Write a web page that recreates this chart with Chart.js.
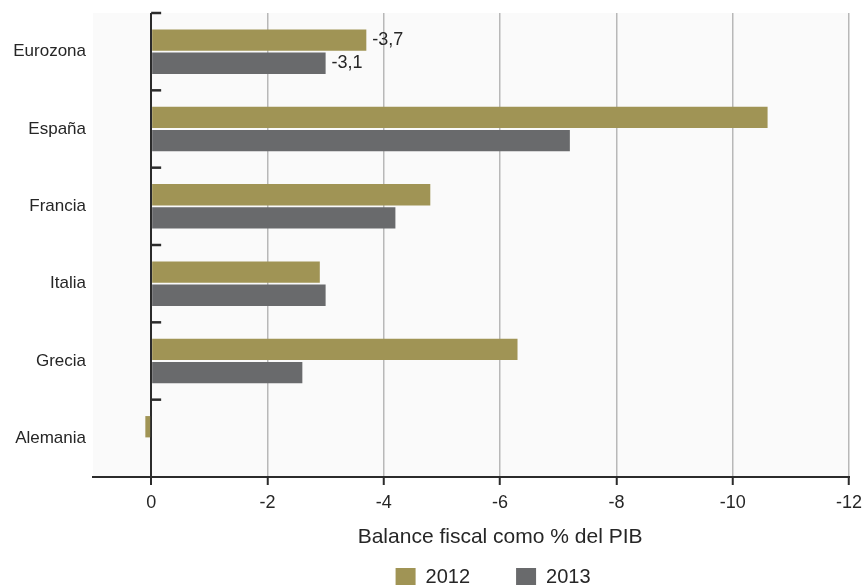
<!DOCTYPE html>
<html>
<head>
<meta charset="utf-8">
<script src="https://cdn.jsdelivr.net/npm/chart.js@4"></script>
<style>
body { margin: 0; background: #fff; }
#wrap { width: 862px; height: 585px; }
</style>
</head>
<body>
<div id="wrap"><canvas id="grafico"></canvas></div>
<script>
const paises = ['Eurozona', 'España', 'Francia', 'Italia', 'Grecia', 'Alemania'];
const valores2012 = [-3.7, -10.6, -4.8, -2.9, -6.3, 0.1];
const valores2013 = [-3.0, -7.2, -4.2, -3.0, -2.6, 0];
const etiquetas2012 = ['-3,7', '', '', '', '', ''];
const etiquetas2013 = ['-3,1', '', '', '', '', ''];
const ticksX = [0, -2, -4, -6, -8, -10, -12];
const tituloX = 'Balance fiscal como % del PIB';

const fuente = "'Liberation Sans', Arial, sans-serif";
const oscuro = '#2b2b2b';
const texto = '#262626';

// fondo gris claro del area de trazado
const fondo = {
    id: 'fondo',
    beforeDraw(chart) {
        const a = chart.chartArea;
        const ctx = chart.ctx;
        ctx.save();
        ctx.fillStyle = '#fafafa';
        ctx.fillRect(a.left, a.top, a.right - a.left, a.bottom - a.top);
        ctx.restore();
    }
};

// marcas cortas del eje de categorias, junto a la linea del cero
const marcas = {
    id: 'marcas',
    afterDatasetsDraw(chart) {
        const ctx = chart.ctx;
        const x0 = chart.scales.x.getPixelForValue(0);
        const y = chart.scales.y;
        ctx.save();
        ctx.strokeStyle = oscuro;
        ctx.lineWidth = 2.5;
        for (let i = 0; i < paises.length; i++) {
            const yy = y.getPixelForValue(i - 0.5);
            ctx.beginPath();
            ctx.moveTo(x0, yy);
            ctx.lineTo(x0 + 10, yy);
            ctx.stroke();
        }
        ctx.restore();
    }
};

const rotulos = {
    id: 'rotulos',
    afterDatasetsDraw(chart) {
        const ctx = chart.ctx;
        ctx.save();
        ctx.font = '18px ' + fuente;
        ctx.fillStyle = texto;
        ctx.textBaseline = 'middle';
        ctx.textAlign = 'left';
        [etiquetas2012, etiquetas2013].forEach((lista, d) => {
            chart.getDatasetMeta(d).data.forEach((barra, i) => {
                if (lista[i]) ctx.fillText(lista[i], barra.x + 6, barra.y);
            });
        });
        ctx.restore();
    }
};

// titulo del eje x centrado entre 0 y -12, y leyenda desplazada igual
const tituloEje = {
    id: 'tituloEje',
    afterLayout(chart) {
        const x = chart.scales.x;
        const centro = (x.getPixelForValue(0) + x.getPixelForValue(-12)) / 2;
        const l = chart.legend;
        const dx = centro - 7 - (l.left + l.right) / 2;
        l.left += dx;
        l.right += dx;
    },
    afterDraw(chart) {
        const x = chart.scales.x;
        const ctx = chart.ctx;
        ctx.save();
        ctx.font = '21px ' + fuente;
        ctx.fillStyle = texto;
        ctx.textAlign = 'center';
        ctx.textBaseline = 'middle';
        ctx.fillText(tituloX, (x.getPixelForValue(0) + x.getPixelForValue(-12)) / 2, x.top + 60);
        ctx.restore();
    }
};

ctx = document.getElementById('grafico');
chart = new Chart(ctx, {
    type: 'bar',
    data: {
        labels: paises,
        datasets: [{
                label: '2012',
                data: valores2012,
                backgroundColor: '#a09455',
                borderWidth: 0,
                barPercentage: 0.92,
                categoryPercentage: 0.6
            },
            {
                label: '2013',
                data: valores2013,
                backgroundColor: '#696a6c',
                borderWidth: 0,
                barPercentage: 0.92,
                categoryPercentage: 0.6
            }]
    },
    options: {
        indexAxis: 'y',
        responsive: true,
        maintainAspectRatio: false,
        animation: false,
        layout: {
            padding: { top: 13, right: 13, left: 0, bottom: -12 }
        },
        plugins: {
            legend: {
                position: 'bottom',
                labels: {
                    boxWidth: 20,
                    boxHeight: 18,
                    padding: 46,
                    color: texto,
                    font: { family: fuente, size: 20 }
                }
            },
            tooltip: { enabled: false }
        },
        scales: {
            x: {
                type: 'linear',
                reverse: true,
                min: -12,
                max: 1,
                afterBuildTicks: s => { s.ticks = ticksX.map(v => ({ value: v })); },
                afterFit: s => { s.height = 44; s.paddingRight = 0; s.paddingLeft = 0; },
                grid: {
                    color: c => c.tick && c.tick.value === 0 ? oscuro : '#b8b8b8',
                    lineWidth: c => c.tick && c.tick.value === 0 ? 2 : 1.5,
                    tickColor: oscuro,
                    tickWidth: 2,
                    tickLength: 8
                },
                border: { color: oscuro, width: 2 },
                ticks: {
                    color: texto,
                    padding: 7,
                    font: { family: fuente, size: 18 },
                    callback: v => String(v)
                }
            },
            y: {
                grid: { display: false, drawTicks: false },
                border: { display: false },
                ticks: {
                    color: texto,
                    padding: 7,
                    font: { family: fuente, size: 17 }
                },
                afterFit: s => { s.width = 93; s.paddingTop = 0; s.paddingBottom = 0; }
            }
        }
    },
    plugins: [fondo, marcas, rotulos, tituloEje]
});
</script>
</body>
</html>
